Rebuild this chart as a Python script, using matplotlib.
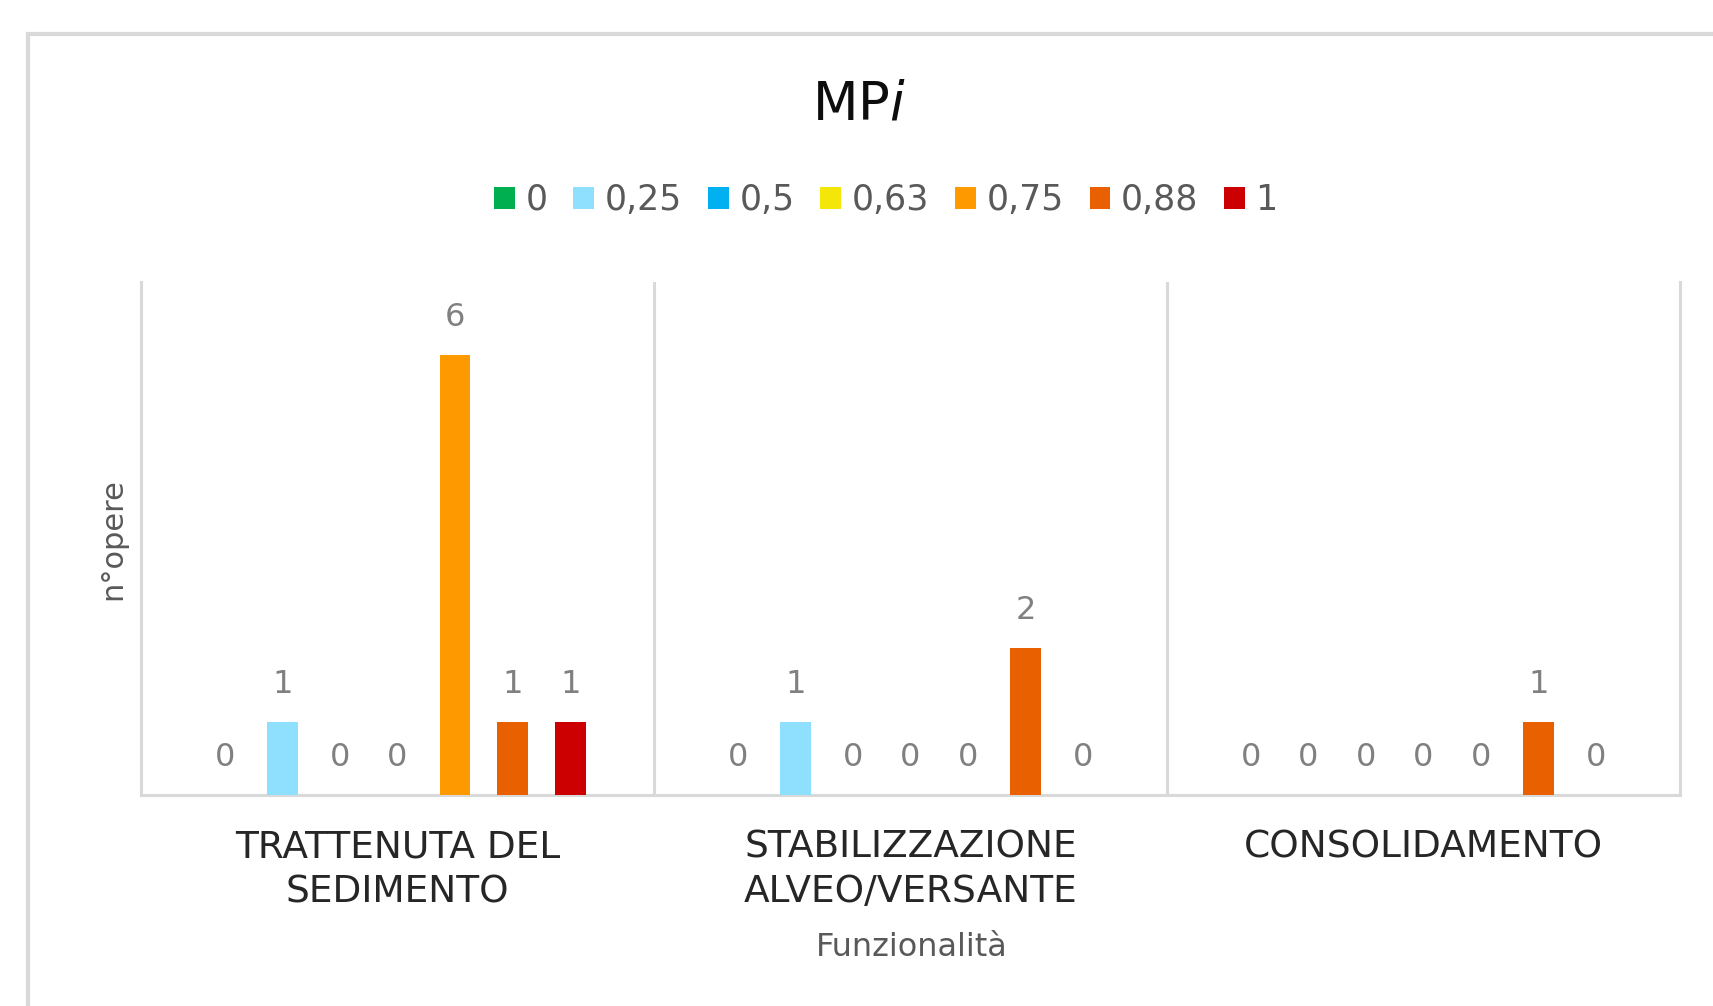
import numpy as np
import matplotlib
matplotlib.use("Agg")
import matplotlib.pyplot as plt
from matplotlib.patches import Rectangle

# n° opere per funzionalità, grouped by MPi class
categories = ["TRATTENUTA DEL\nSEDIMENTO", "STABILIZZAZIONE\nALVEO/VERSANTE", "CONSOLIDAMENTO"]
series_names = ["0", "0,25", "0,5", "0,63", "0,75", "0,88", "1"]
colors = ["#00B050", "#8FE0FF", "#00B0F0", "#F5E60A", "#FF9900", "#E86000", "#CC0000"]

mpi_0 = [0, 0, 0]
mpi_025 = [1, 1, 0]
mpi_05 = [0, 0, 0]
mpi_063 = [0, 0, 0]
mpi_075 = [6, 0, 0]
mpi_088 = [1, 2, 1]
mpi_1 = [1, 0, 0]
values = [mpi_0, mpi_025, mpi_05, mpi_063, mpi_075, mpi_088, mpi_1]

W, H = 1713, 1006
fig = plt.figure(figsize=(W / 100, H / 100), dpi=100)
fig.patch.set_facecolor("white")

# chart border (runs off the right/bottom edges like the screenshot)
fig.patches.append(Rectangle((28 / W, -0.1), 1.2, 1 - 34 / H + 0.1,
                             transform=fig.transFigure, fill=False,
                             edgecolor="#D9D9D9", linewidth=3))

ax = fig.add_axes([141 / W, 1 - 795 / H, (1680 - 141) / W, (795 - 282) / H])

x = np.arange(len(categories))
slot = 0.1123
bw = 0.0596
for i, (name, vals, c) in enumerate(zip(series_names, values, colors)):
    pos = x + (i - 3) * slot
    bars = ax.bar(pos, vals, width=bw, color=c, label=name, zorder=3)
    for b, v in zip(bars, vals):
        ax.annotate(str(v), (b.get_x() + b.get_width() / 2, v),
                    xytext=(0, 27), textcoords="offset points",
                    ha="center", va="center", fontsize=23, color="#808080")

ax.set_xlim(-0.5, len(categories) - 0.5)
ax.set_ylim(0, 7)
ax.set_yticks([])
for xd in x[:-1] + 0.5:
    ax.axvline(xd, color="#D9D9D9", lw=2.2, zorder=1)

for s in ["left", "right", "bottom"]:
    ax.spines[s].set_color("#D9D9D9")
    ax.spines[s].set_linewidth(2.2)
ax.spines["top"].set_visible(False)

ax.set_xticks(x)
ax.set_xticklabels(categories, fontsize=27, color="#262626", linespacing=1.3,
                   va="top")
ax.tick_params(axis="x", length=0, pad=25)

fig.text(113 / W, 1 - 539 / H, "n°opere", rotation=90, ha="center", va="center",
         fontsize=22, color="#595959")
fig.text(912 / W, 1 - 948 / H, "Funzionalità", ha="center", va="center",
         fontsize=23, color="#595959")

fig.text(859 / W, 1 - 105 / H, "MP$\\mathit{i}$", ha="center", va="center",
         fontsize=38, color="#0D0D0D")

fig.legend(loc="center", bbox_to_anchor=(886 / W, 1 - 200 / H), ncol=7,
           frameon=False, fontsize=25, labelcolor="#595959",
           handlelength=0.6, handleheight=0.6, handletextpad=0.3,
           columnspacing=0.75)

fig.savefig("out.png", dpi=100)
